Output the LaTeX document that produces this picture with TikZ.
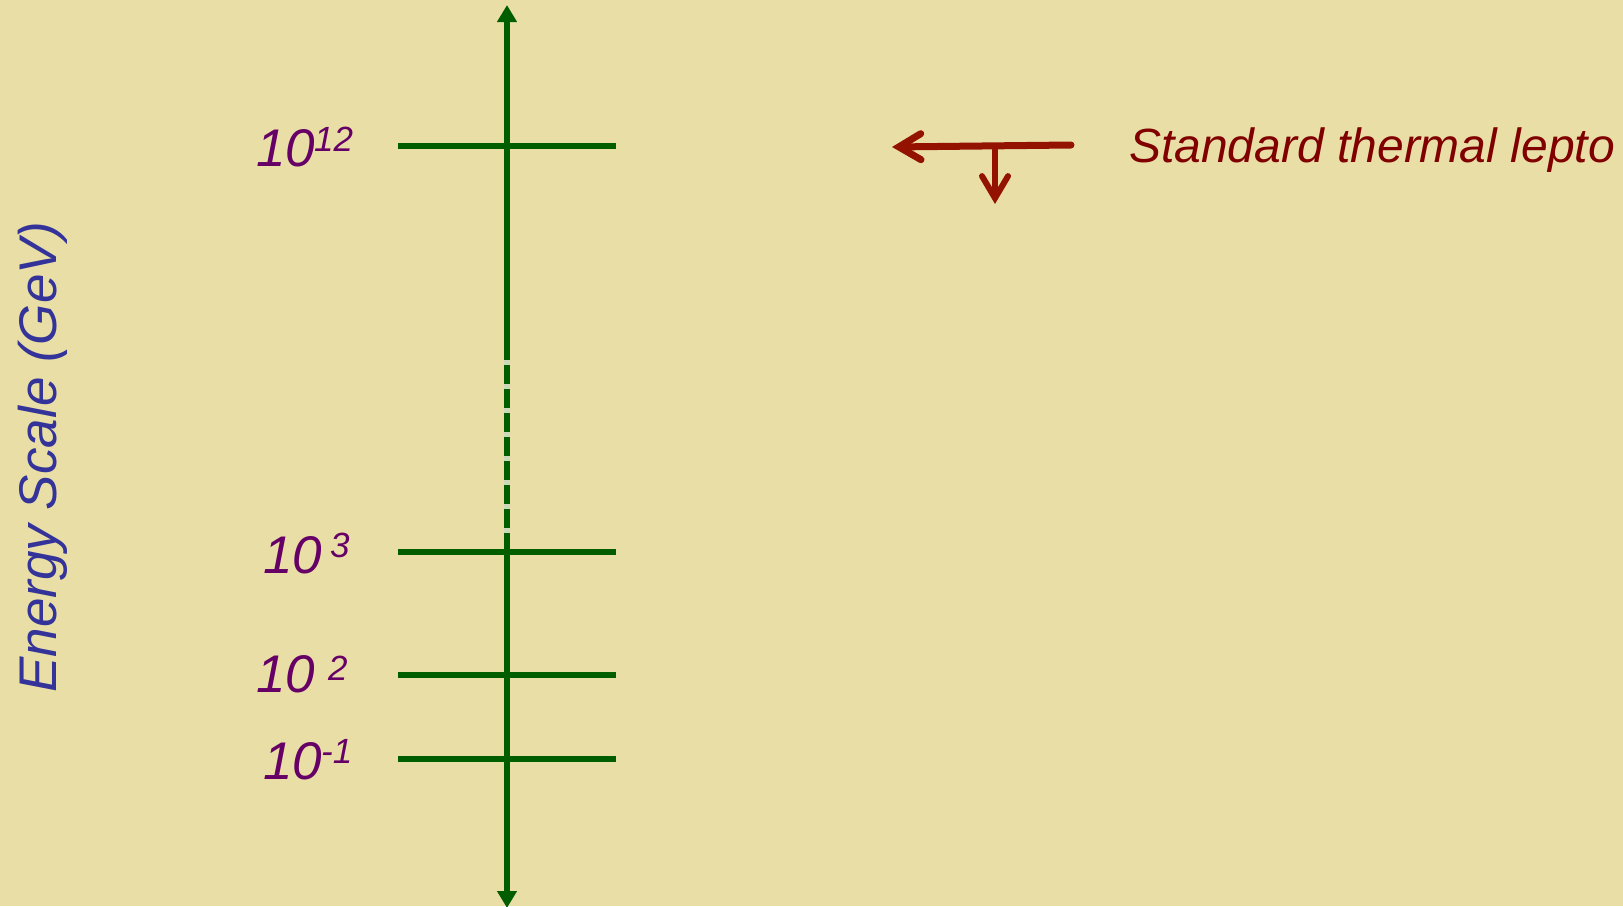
\documentclass[tikz,border=0pt]{standalone}
\usepackage{fontspec}
\setmainfont{Liberation Sans}
\usetikzlibrary{arrows.meta}
\definecolor{bgcol}{RGB}{233,223,166}
\definecolor{gapcol}{RGB}{205,218,185}
\definecolor{axisgreen}{RGB}{0,94,0}
\definecolor{labpurple}{RGB}{102,0,102}
\definecolor{axblue}{RGB}{51,51,153}
\definecolor{arrred}{RGB}{148,18,0}
\definecolor{txtred}{RGB}{128,0,0}
\newcommand{\mysup}[2][15pt]{\hspace{-1pt}\raisebox{#1}{\fontsize{35pt}{35pt}\selectfont #2}}
\tikzset{
  levelline/.style={draw=axisgreen, line width=6pt},
  axisline/.style={draw=axisgreen, line width=6pt,
    {Triangle[length=17pt,width=19pt]}-{Triangle[length=17pt,width=19pt]}},
  gapline/.style={draw=gapcol, line width=6pt, dash pattern=on 5pt off 19pt},
  powlabel/.style={anchor=base west, inner sep=0pt, text=labpurple,
    font=\fontsize{53pt}{53pt}\selectfont\itshape},
  axislabel/.style={anchor=base, inner sep=0pt, rotate=90, text=axblue,
    font=\fontsize{53pt}{53pt}\selectfont\itshape},
  notelabel/.style={anchor=base west, inner sep=0pt, text=txtred,
    font=\fontsize{48pt}{48pt}\selectfont\itshape},
  redarrow/.style={draw=arrred, line cap=round,
    -{Straight Barb[length=22pt,width=26pt,line cap=round]}},
}
\begin{document}
\begin{tikzpicture}[x=1pt,y=-1pt]
  \fill[bgcol] (0,0) rectangle (1623,906);
  \useasboundingbox (0,0) rectangle (1623,906);

  % axis
  \coordinate (axbot) at (507,908);
  \coordinate (axtop) at (507,5);
  \coordinate (dashA) at (507,360);
  \coordinate (dashB) at (507,545);
  \draw[axisline] (axbot) -- (axtop);
  \draw[gapline] (dashA) -- (dashB);

  % levels
  \coordinate (l12a) at (398,146); \coordinate (l12b) at (616,146);
  \coordinate (l3a)  at (398,552); \coordinate (l3b)  at (616,552);
  \coordinate (l2a)  at (398,675); \coordinate (l2b)  at (616,675);
  \coordinate (lm1a) at (398,759); \coordinate (lm1b) at (616,759);
  \draw[levelline] (l12a) -- (l12b);
  \draw[levelline] (l3a) -- (l3b);
  \draw[levelline] (l2a) -- (l2b);
  \draw[levelline] (lm1a) -- (lm1b);

  % labels
  \node[powlabel] (t12) at (256,166) {10\mysup{12}};
  \node[powlabel] (t3)  at (263,573) {10\hspace{9pt}\mysup[16pt]{3}};
  \node[powlabel] (t2)  at (256,692) {10\hspace{14pt}\mysup[12pt]{2}};
  \node[powlabel] (tm1) at (263,779) {10\mysup[16pt]{-1}};

  \node[axislabel] (ylab) at (56,457) {Energy Scale (GeV)};

  % red arrows
  \coordinate (hstart) at (1071,145);
  \coordinate (htip) at (892,147);
  \coordinate (vstart) at (995,150);
  \coordinate (vtip) at (995,204);
  \draw[redarrow, line width=7pt] (hstart) -- (htip);
  \draw[redarrow, line width=6pt] (vstart) -- (vtip);

  \node[notelabel] (note) at (1129,162) {Standard thermal lepto};
\end{tikzpicture}
\end{document}
